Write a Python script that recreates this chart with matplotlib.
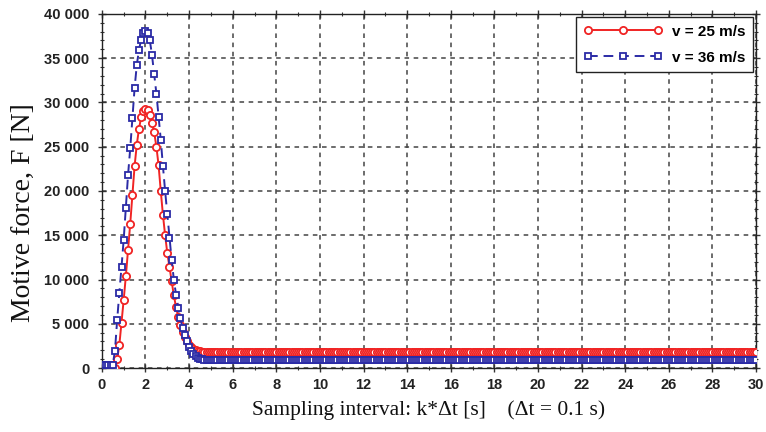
import numpy as np
import matplotlib
matplotlib.use("Agg")
import matplotlib.pyplot as plt
from matplotlib.ticker import MultipleLocator, FuncFormatter

# Sampling step and time axis: k * dt, dt = 0.1 s, k = 0..300
dt = 0.1
k = np.arange(0, 301)
t = k * dt

# Motive force for v = 25 m/s, samples k = 0..50 (then steady state)
force_v25_head = [
    0, 0, 0, 0, 0, 0, 0, 1000, 2600, 5100,
    7700, 10400, 13300, 16300, 19500, 22800, 25200, 27000, 28300, 29000,
    29300, 29100, 28600, 27700, 26600, 25000, 22900, 20000, 17300, 15000,
    13000, 11400, 9800, 8200, 6900, 5800, 4900, 4100, 3500, 3000,
    2650, 2400, 2200, 2050, 1950, 1880, 1840, 1810, 1800, 1800,
    1800,
]
force_v25_steady = 1800

# Motive force for v = 36 m/s, samples k = 0..50 (then steady state)
force_v36_head = [
    350, 350, 350, 350, 350, 400, 1950, 5400, 8500, 11400,
    14500, 18100, 21800, 24800, 28200, 31600, 34200, 35900, 37100, 37800,
    38100, 37800, 37000, 35300, 33200, 31000, 28400, 25800, 22800, 20000,
    17400, 14700, 12200, 10000, 8300, 6800, 5600, 4550, 3700, 3000,
    2400, 1950, 1600, 1350, 1180, 1060, 990, 950, 920, 910,
    900,
]
force_v36_steady = 900

x_ticks = np.arange(0, 31, 2)
y_ticks = np.arange(0, 40001, 5000)

f25 = np.full(t.shape, force_v25_steady, dtype=float)
f25[:len(force_v25_head)] = force_v25_head
f36 = np.full(t.shape, force_v36_steady, dtype=float)
f36[:len(force_v36_head)] = force_v36_head

fig = plt.figure(figsize=(7.66, 4.32), dpi=100)
ax = fig.add_axes([0.133, 0.148, 0.854, 0.820])

red = "#f02424"
blue = "#2b2ba6"

ax.plot(t, f25, color=red, lw=1.4, marker="o", ms=5.2, mfc="white",
        mec=red, mew=1.3, label="v = 25 m/s", zorder=3)
ax.plot(t, f36, color=blue, lw=1.4, ls=(0, (5, 3)), marker="s", ms=5.0,
        mfc="white", mec=blue, mew=1.3, label="v = 36 m/s", zorder=4)

ax.set_xlim(0, 30)
ax.set_ylim(0, 40000)
ax.set_xticks(x_ticks)
ax.set_yticks(y_ticks)
ax.xaxis.set_minor_locator(MultipleLocator(1))
ax.yaxis.set_minor_locator(MultipleLocator(1000))
ax.yaxis.set_major_formatter(
    FuncFormatter(lambda v, p: f"{int(v):,}".replace(",", " ")))

for lab in ax.get_xticklabels() + ax.get_yticklabels():
    lab.set_fontfamily("Liberation Sans")
    lab.set_fontsize(10.5)
    lab.set_fontweight("bold")
    lab.set_color("#222222")

ax.tick_params(which="major", direction="inout", length=6, width=1,
               top=True, right=True, color="#333333")
ax.tick_params(axis="y", which="major", pad=6)
ax.tick_params(axis="x", which="major", pad=4)
ax.tick_params(which="minor", direction="inout", length=3.5, width=0.8,
               top=True, right=True, color="#333333")

ax.grid(True, which="major", color="#444444", ls=(0, (3, 3)), lw=1.1)
for s in ax.spines.values():
    s.set_color("#222222")
    s.set_linewidth(1.0)

ax.set_ylabel("Motive force, F [N]", family="Liberation Serif",
              fontsize=20, color="#111111")
ax.yaxis.set_label_coords(-0.101, 0.44)
ax.set_xlabel("Sampling interval: k*\u0394t [s]    (\u0394t = 0.1 s)",
              family="Liberation Serif", fontsize=15.5, color="#111111",
              labelpad=6)

leg = ax.legend(loc="upper right", numpoints=3, handlelength=5.2,
                prop={"family": "Liberation Sans", "size": 11,
                      "weight": "bold"},
                fancybox=False, edgecolor="#222222", framealpha=1,
                borderaxespad=0.2, borderpad=0.5, labelspacing=0.8,
                handletextpad=0.6)
leg.get_frame().set_linewidth(1.0)

fig.savefig("out.png", dpi=100)
